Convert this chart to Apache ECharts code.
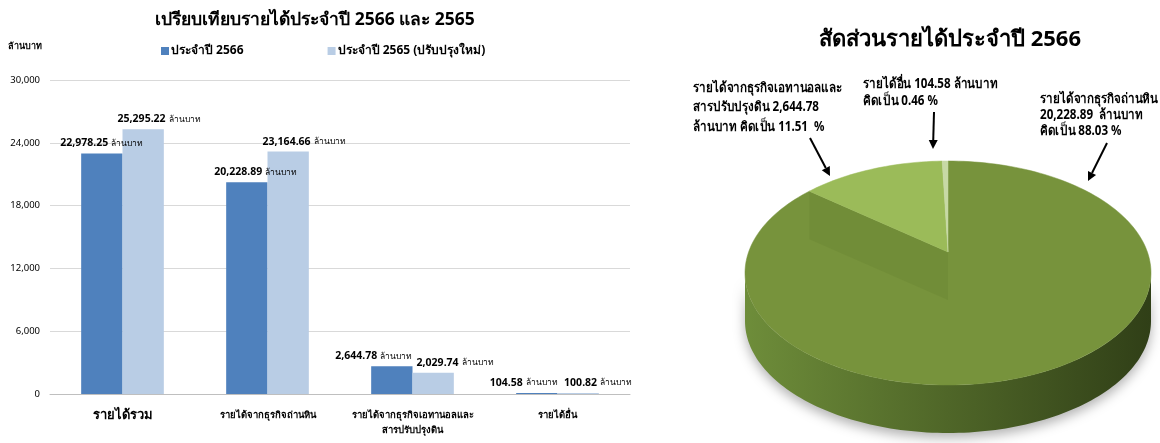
<!DOCTYPE html>
<html>
<head>
<meta charset="utf-8">
<script src="https://cdn.jsdelivr.net/npm/echarts@6/dist/echarts.min.js"></script>
<style>
html,body{margin:0;padding:0;background:#fff;}
#main{width:1160px;height:443px;}
</style>
</head>
<body>
<div id="main"></div>
<script>
// ---------- data ----------
const categories = ['รายได้รวม', 'รายได้จากธุรกิจถ่านหิน', 'รายได้จากธุรกิจเอทานอลและ\nสารปรับปรุงดิน', 'รายได้อื่น'];
const seriesNames = ['ประจำปี 2566', 'ประจำปี 2565 (ปรับปรุงใหม่)'];
const values2566 = [22978.25, 20228.89, 2644.78, 104.58];
const values2565 = [25295.22, 23164.66, 2029.74, 100.82];
const yMin = 0, yMax = 30000, yStep = 6000;
const unit = 'ล้านบาท';

const pieNames = ['รายได้จากธุรกิจถ่านหิน', 'รายได้จากธุรกิจเอทานอลและสารปรับปรุงดิน', 'รายได้อื่น'];
const pieValues = [20228.89, 2644.78, 104.58];
const piePercents = [88.03, 11.51, 0.46];

// ---------- style ----------
const FONT = '"Noto Sans", "DejaVu Sans", sans-serif';
const darkBlue = '#4f81bd', lightBlue = '#b9cde5';
const labelShiftA = [0, 9, -18, -13];
const labelShiftB = [16, 16, 22, 20];
const pieTopColors = ['#77933c', '#9bbb59', '#c7d9a5'];

function fmt(v) {
  return v.toLocaleString('en-US', {minimumFractionDigits: 2, maximumFractionDigits: 2});
}

function barData(vals, shifts) {
  return vals.map((v, i) => ({
    value: v,
    label: {offset: [shifts[i], 0]}
  }));
}

// pie geometry
const P = {cx: 948, cy: 273, rx: 203, ry: 112, apexY: 252, depth: 48};
const total = pieValues.reduce((a, b) => a + b, 0);
let acc = 0;
const pieData = pieValues.map((v, i) => {
  const s = acc / total; acc += v; const e = acc / total;
  return [s, e, i];
});
function ept(t, dy) {
  const a = t * Math.PI * 2;
  return [P.cx + P.rx * Math.sin(a), P.cy - P.ry * Math.cos(a) + (dy || 0)];
}
function arc(t0, t1, dy) {
  const pts = [];
  const n = Math.max(2, Math.ceil((t1 - t0) * 240));
  for (let k = 0; k <= n; k++) pts.push(ept(t0 + (t1 - t0) * k / n, dy));
  return pts;
}

function renderTop(params, api) {
  const s = api.value(0), e = api.value(1), idx = api.value(2);
  const pts = [[P.cx, P.apexY]].concat(arc(s, e));
  const children = [{
    type: 'polygon', shape: {points: pts},
    style: {fill: pieTopColors[idx], stroke: pieTopColors[idx], lineWidth: 0.5}
  }];
  if (idx === 0) {
    // radial wall at end of the big slice (seen through the top)
    const p = ept(e);
    children.push({
      type: 'polygon',
      shape: {points: [[P.cx, P.apexY], p, [p[0], p[1] + P.depth], [P.cx, P.apexY + P.depth]]},
      style: {fill: 'rgba(85,110,35,0.16)'}
    });
  }
  return {type: 'group', children: children};
}
function renderSide(params, api) {
  const s = Math.max(api.value(0), 0.25), e = Math.min(api.value(1), 0.75);
  if (e <= s) return {type: 'group', children: []};
  const top = arc(s, e);
  const bot = arc(s, e, P.depth).reverse();
  return {
    type: 'polygon', shape: {points: top.concat(bot)},
    style: {
      fill: new echarts.graphic.LinearGradient(0, 0, 1, 0, [
        {offset: 0, color: '#6e8d3a'}, {offset: 0.5, color: '#4f6628'}, {offset: 1, color: '#303f17'}
      ], false),
      shadowBlur: 12, shadowColor: 'rgba(0,0,0,0.3)', shadowOffsetY: 5
    }
  };
}

function arrow(x1, y1, x2, y2) {
  const ang = Math.atan2(y2 - y1, x2 - x1), L = 9, W = 4.5;
  const bx = x2 - L * Math.cos(ang), by = y2 - L * Math.sin(ang);
  const nx = -Math.sin(ang), ny = Math.cos(ang);
  return [
    {type: 'line', shape: {x1: x1, y1: y1, x2: bx, y2: by}, style: {stroke: '#000', lineWidth: 2}, z: 100},
    {type: 'polygon', shape: {points: [[x2, y2], [bx + nx * W, by + ny * W], [bx - nx * W, by - ny * W]]}, style: {fill: '#000'}, z: 100}
  ];
}

function pieText(x, y, text, lh) {
  return {type: 'text', x: x, y: y, scaleX: 0.86, z: 100,
    style: {text: text, fontFamily: FONT, fontSize: 13.5, fontWeight: 'bold', fill: '#000', lineHeight: lh}};
}
const graphics = [
  {type: 'text', left: 8, top: 42, style: {text: unit, fontFamily: FONT, fontSize: 9, fontWeight: 'bold', fill: '#000'}},
  pieText(693, 78, 'รายได้จากธุรกิจเอทานอลและ\nสารปรับปรุงดิน ' + fmt(pieValues[1]) + '\n' + unit + ' คิดเป็น ' + piePercents[1].toFixed(2) + '  %', 19.5),
  pieText(863, 76, pieNames[2] + ' ' + fmt(pieValues[2]) + ' ' + unit + '\nคิดเป็น ' + piePercents[2].toFixed(2) + ' %', 17),
  pieText(1040, 91, pieNames[0] + '\n' + fmt(pieValues[0]) + '  ' + unit + '\nคิดเป็น ' + piePercents[0].toFixed(2) + ' %', 16)
].concat(arrow(810, 138, 830, 176), arrow(934, 112, 933, 149), arrow(1107, 143, 1088, 181));

const barLabel = {
  show: true, position: 'top', distance: 4,
  formatter: p => '{v|' + fmt(p.value) + '} {u|' + unit + '}',
  rich: {
    v: {fontFamily: FONT, fontSize: 10.5, fontWeight: 'bold', color: '#000'},
    u: {fontFamily: FONT, fontSize: 8.5, color: '#000'}
  }
};

const chart = echarts.init(document.getElementById('main'), null, {renderer: 'canvas'});
chart.setOption({
  animation: false,
  textStyle: {fontFamily: FONT},
  title: [
    {text: 'เปรียบเทียบรายได้ประจำปี 2566 และ 2565', left: 310, textAlign: 'center', top: 6,
      textStyle: {fontFamily: FONT, fontSize: 17.5, fontWeight: 'bold', color: '#000'}},
    {text: 'สัดส่วนรายได้ประจำปี 2566', left: 945, textAlign: 'center', top: 24,
      textStyle: {fontFamily: FONT, fontSize: 22, fontWeight: 'bold', color: '#000'}}
  ],
  legend: {
    data: seriesNames, left: 156, top: 40, itemWidth: 8, itemHeight: 8, itemGap: 84, icon: 'rect',
    textStyle: {fontFamily: FONT, fontSize: 12, fontWeight: 'bold', color: '#000', padding: [0, 0, 0, -3]}
  },
  grid: {left: 50, right: 530, top: 80, bottom: 49, containLabel: false},
  xAxis: {
    type: 'category', data: categories,
    axisLine: {lineStyle: {color: '#bfbfbf'}}, axisTick: {show: false},
    axisLabel: {
      margin: 14, color: '#000', interval: 0, lineHeight: 15,
      formatter: (v, i) => i === 0 ? '{b|' + v + '}' : v,
      fontFamily: FONT, fontSize: 9.5, fontWeight: 'bold',
      rich: {b: {fontFamily: FONT, fontSize: 13, fontWeight: 'bold', color: '#000'}}
    }
  },
  yAxis: {
    type: 'value', min: yMin, max: yMax, interval: yStep,
    axisLine: {show: false}, axisTick: {show: false},
    axisLabel: {color: '#000', fontSize: 9.5, fontFamily: FONT, margin: 10,
      formatter: v => v.toLocaleString('en-US')},
    splitLine: {lineStyle: {color: '#d9d9d9'}}
  },
  series: [
    {name: seriesNames[0], type: 'bar', data: barData(values2566, labelShiftA), itemStyle: {color: darkBlue},
      barGap: '0%', barCategoryGap: '43%', label: barLabel},
    {name: seriesNames[1], type: 'bar', data: barData(values2565, labelShiftB), itemStyle: {color: lightBlue},
      barGap: '0%', barCategoryGap: '43%', label: barLabel},
    {type: 'custom', coordinateSystem: 'none', renderItem: renderSide, data: pieData, z: 1, silent: true},
    {type: 'custom', coordinateSystem: 'none', renderItem: renderTop, data: pieData, z: 2, silent: true}
  ],
  graphic: graphics
});
</script>
</body>
</html>
